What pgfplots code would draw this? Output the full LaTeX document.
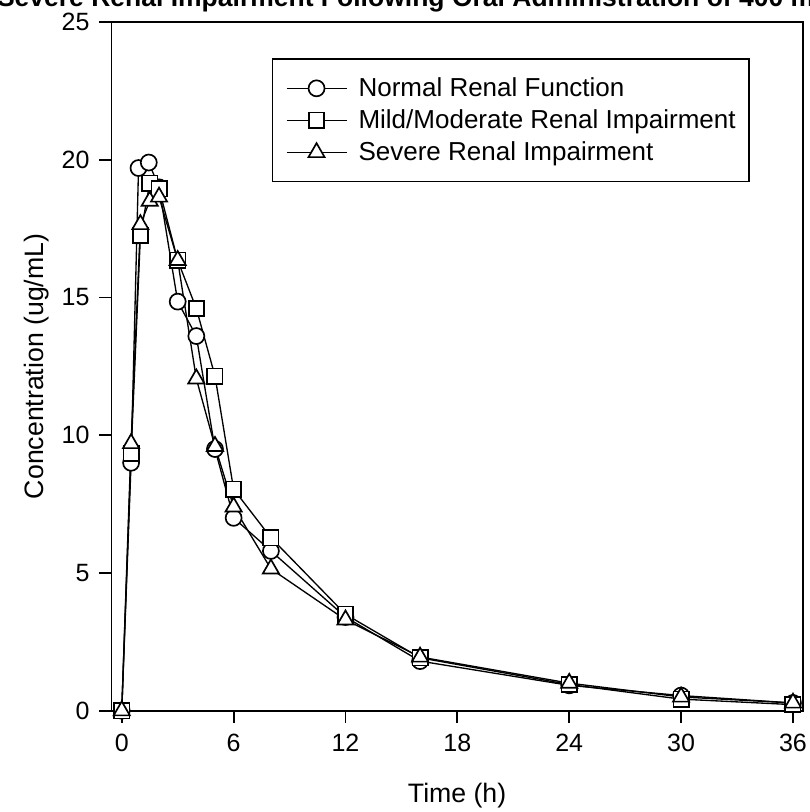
\documentclass[border=0pt]{standalone}
\usepackage{pgfplots}
\pgfplotsset{compat=1.18}
\usepackage{fontspec}
\setmainfont{Liberation Sans}
\begin{document}
\begin{tikzpicture}
\begin{axis}[
  at={(66.9pt,60.78pt)}, anchor=south west,
  scale only axis, width=414.7pt, height=413.2pt,
  xmin=-0.55, xmax=36.52, ymin=0, ymax=25,
  xtick={0,6,...,36}, ytick={0,5,...,25},
  tick align=outside, xtick pos=left, ytick pos=left,
  major tick length=7.2pt,
  axis line style={line width=1.1pt},
  every tick/.style={line width=1.1pt, black},
  tick label style={font=\fontsize{15}{17}\selectfont},
  xticklabel style={yshift=-3pt},
  yticklabel style={xshift=-2.5pt},
  /pgf/number format/assume math mode=true,
  xlabel={Time (h)}, ylabel={Concentration (ug/mL)},
  label style={font=\fontsize{16}{18}\selectfont},
  xlabel style={at={(axis description cs:0.5,-0.124)}, anchor=center},
  ylabel style={at={(axis description cs:-0.108,0.5)}, anchor=center},
  legend cell align=left,
  legend style={at={(0.2318,0.9473)}, anchor=north west, draw=black, line width=1pt,
    inner xsep=8pt, inner ysep=12pt, row sep=8.2pt, column sep=6.8pt,
    nodes={inner sep=0pt, text height=10.5pt, text depth=0.5pt, font=\fontsize{15.6}{17}\selectfont}},
  legend image code/.code={\draw[mark repeat=2,mark phase=2] plot coordinates {(0pt,0pt) (18pt,0pt) (36pt,0pt)};},
  every axis plot/.append style={black, line width=0.8pt, mark options={solid, fill=white, line width=1pt}},
]
\addplot[mark=*, mark size=4.8pt] coordinates {
(0,0) (0.5,9.0) (0.9,19.7) (1.45,19.9) (2,19.0) (3,14.85) (4,13.6) (5,9.5) (6,7.0) (8,5.8) (12,3.4) (16,1.8) (24,0.92) (30,0.55) (36,0.28)};
\addlegendentry{Normal Renal Function}
\addplot[mark=square*, mark size=4.6pt] coordinates {
(0,0) (0.5,9.35) (1,17.25) (1.5,19.15) (2,18.95) (3,16.35) (4,14.6) (5,12.15) (6,8.04) (8,6.28) (12,3.5) (16,1.92) (24,0.95) (30,0.42) (36,0.22)};
\addlegendentry{Mild/Moderate Renal Impairment}
\addplot[mark=triangle*, mark size=5.6pt] coordinates {
(0,0) (0.5,9.7) (1,17.65) (1.5,18.5) (2,18.65) (3,16.35) (4,12.05) (5,9.6) (6,7.4) (8,5.15) (12,3.3) (16,1.95) (24,1.0) (30,0.5) (36,0.28)};
\addlegendentry{Severe Renal Impairment}
\end{axis}
\node[anchor=base west, inner sep=0pt, font=\bfseries\fontsize{15.9}{18}\selectfont] at (-2pt,483pt) {Severe Renal Impairment Following Oral Administration of 400 mg};
\pgfresetboundingbox
\path[use as bounding box] (0,0) rectangle (485.4pt,487.2pt);
\end{tikzpicture}
\end{document}
